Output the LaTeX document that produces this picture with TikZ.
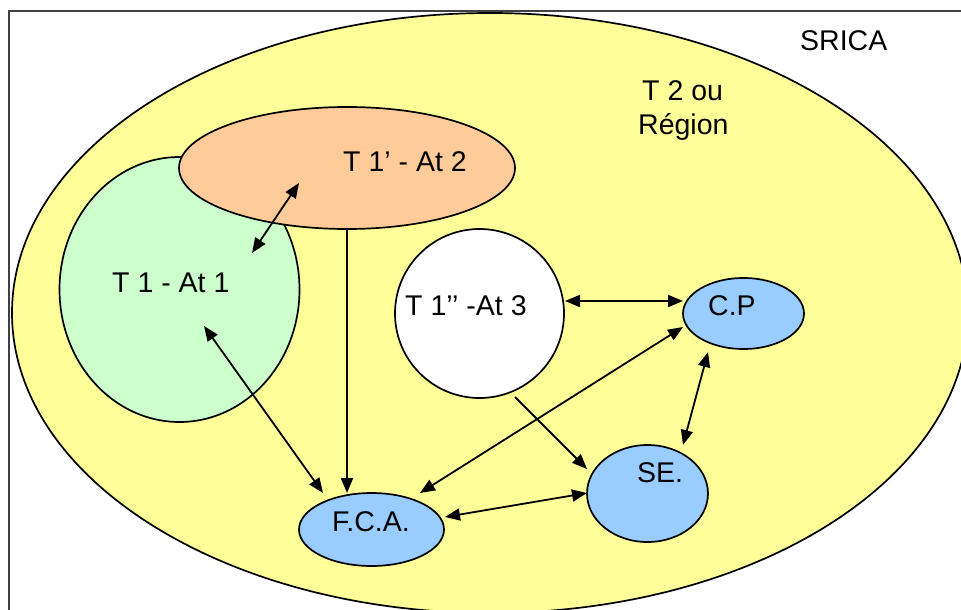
\documentclass[tikz,border=0pt]{standalone}
\usepackage{fontspec}
\setmainfont{Liberation Sans}
\usetikzlibrary{arrows.meta,shapes.geometric}
\definecolor{ryellow}{HTML}{FFFF99}
\definecolor{rgreen}{HTML}{CCFFCC}
\definecolor{rorange}{HTML}{FFCC99}
\definecolor{rblue}{HTML}{99CCFF}
\begin{document}
\begin{tikzpicture}[x=1pt,y=-1pt,
  blob/.style={draw=black, line width=1.7pt, ellipse, inner sep=0pt},
  lab/.style={font=\fontsize{28.5}{34}\selectfont, anchor=base west, inner sep=0pt},
  both/.style={line width=1.8pt, {Triangle[length=15pt,width=12pt]}-{Triangle[length=15pt,width=12pt]}},
  one/.style={line width=1.8pt, -{Triangle[length=15pt,width=12pt]}}
]
\useasboundingbox (0,0) rectangle (961,610);
\fill[white] (0,0) rectangle (961,610);
% frame
\draw[line width=2pt, black!75] (9,11) rectangle (990,640);
% region ellipse
\node[blob, fill=ryellow, minimum width=956pt, minimum height=600pt] (region) at (490,313) {};
% territories
\node[blob, fill=rgreen, minimum width=240pt, minimum height=265pt] (at1) at (179.5,289.5) {};
\node[blob, fill=rorange, minimum width=336pt, minimum height=122pt] (at2) at (347,168) {};
\node[blob, fill=white, minimum width=169pt, minimum height=169pt] (at3) at (479.5,313.5) {};
\node[blob, fill=rblue, minimum width=121pt, minimum height=71pt] (cp) at (743.5,313.5) {};
\node[blob, fill=rblue, minimum width=121pt, minimum height=97pt] (se) at (647.5,493.5) {};
\node[blob, fill=rblue, minimum width=145pt, minimum height=73pt] (fca) at (371.5,529.5) {};
% arrow end points
\coordinate (g1) at (252,253);
\coordinate (o1) at (299,183);
\coordinate (g2) at (204,326);
\coordinate (f1) at (323,493);
\coordinate (f2) at (420,493);
\coordinate (f3) at (445,517);
\coordinate (c1) at (683,327);
\coordinate (c2) at (708,352);
\coordinate (s1) at (683,445);
\coordinate (s2) at (587,493);
\coordinate (s3) at (587,469);
\coordinate (a3) at (515,397);
\coordinate (a3r) at (565,301);
\coordinate (c3) at (683,301);
% connectors
\draw[both] (g1) -- (o1);
\draw[one] (at2.south) -- (at2.south |- f1);
\draw[both] (g2) -- (f1);
\draw[both] (a3r) -- (c3);
\draw[both] (c1) -- (f2);
\draw[both] (c2) -- (s1);
\draw[one] (a3) -- (s3);
\draw[both] (f3) -- (s2);
% labels
\node[lab] (tsrica) at (800,51) {SRICA};
\node[lab] (tt2) at (642,100) {T 2 ou};
\node[lab] (treg) at (638,134) {Région};
\node[lab] (tat2) at (343,171) {T 1’ - At 2};
\node[lab] (tat1) at (112,292) {T 1 - At 1};
\node[lab] (tat3) at (405,315) {T 1’’ -At 3};
\node[lab] (tcp) at (708,315) {C.P};
\node[lab] (tse) at (637,482) {SE.};
\node[lab] (tfca) at (332,531) {F.C.A.};
\end{tikzpicture}
\end{document}
